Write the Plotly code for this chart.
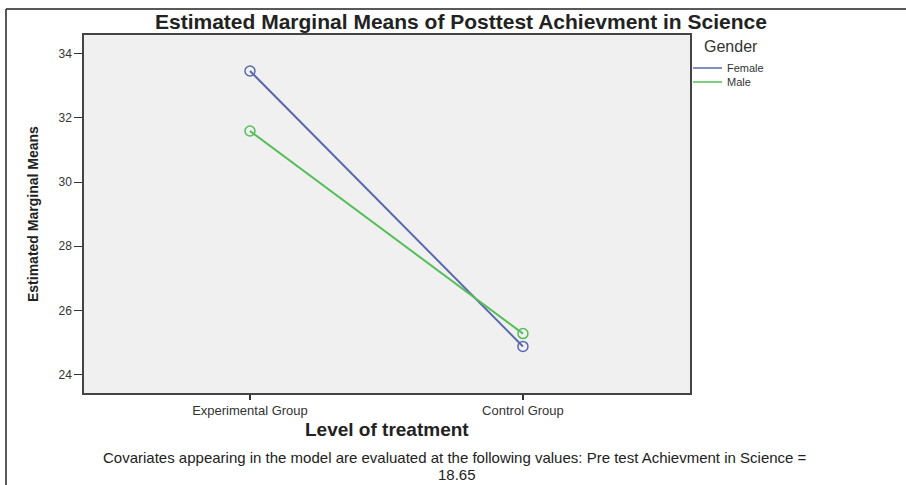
import plotly.graph_objects as go

# ---- data ----
groups = ["Experimental Group", "Control Group"]
series_names = ["Female", "Male"]
female_means = [33.46, 24.88]
male_means = [31.59, 25.28]
y_ticks = [24, 26, 28, 30, 32, 34]
note_line1 = ("Covariates appearing in the model are evaluated at the following values: "
              "Pre test Achievment in Science =")
note_line2 = "18.65"

W, H = 906, 485
L, R, T, B = 84, 690, 35, 393  # plot area in pixels

def px(x):
    return (x - L) / (R - L)

def py(y):
    return (B - y) / (B - T)

FEMALE = "#5a69ad"
MALE = "#55be58"
colors = [FEMALE, MALE]

fig = go.Figure()
for name, vals, col in zip(series_names, [female_means, male_means], colors):
    fig.add_trace(go.Scatter(
        x=[0, 1], y=vals, name=name, mode="lines+markers", showlegend=False,
        line=dict(color=col, width=2),
        marker=dict(symbol="circle-open", size=10, color=col, line=dict(width=1.5)),
    ))

fig.update_layout(
    width=W, height=H,
    margin=dict(l=L, r=W - R, t=T, b=H - B),
    paper_bgcolor="white",
    plot_bgcolor="#f0f0f0",
    font=dict(family="Liberation Sans, Arial, sans-serif", color="#333333"),
    showlegend=False,
)
fig.update_xaxes(
    range=[-0.608, 1.612], tickmode="array", tickvals=[0, 1], ticktext=groups,
    ticks="outside", ticklen=5, tickcolor="#333333", tickwidth=1.5,
    tickfont=dict(size=13, color="#333333"),
    showgrid=False, zeroline=False, showline=True, linecolor="#444444", linewidth=1.5,
    mirror=True,
)
fig.update_yaxes(
    range=[23.43, 34.58], tickmode="array", tickvals=y_ticks,
    ticks="outside", ticklen=8, tickcolor="#333333", tickwidth=1,
    tickfont=dict(size=12, color="#333333"),
    showgrid=False, zeroline=False, showline=True, linecolor="#444444", linewidth=1.5,
    mirror=True,
)

annotations = [
    dict(text="<b>Estimated Marginal Means of Posttest Achievment in Science</b>",
         x=px(461), y=py(21), xref="paper", yref="paper", showarrow=False,
         xanchor="center", yanchor="middle",
         font=dict(size=21, color="#222222")),
    dict(text="Gender", x=px(702), y=py(47), xref="paper", yref="paper",
         showarrow=False, xanchor="left", yanchor="middle",
         font=dict(size=16, color="#333333")),
    dict(text="<b>Estimated Marginal Means</b>", x=px(33), y=py(214),
         xref="paper", yref="paper", showarrow=False, textangle=-90,
         xanchor="center", yanchor="middle",
         font=dict(size=14, color="#222222")),
    dict(text="<b>Level of treatment</b>", x=px(387), y=py(429),
         xref="paper", yref="paper", showarrow=False,
         xanchor="center", yanchor="middle",
         font=dict(size=19, color="#222222")),
    dict(text=note_line1, x=px(455), y=py(457),
         xref="paper", yref="paper", showarrow=False,
         xanchor="center", yanchor="middle",
         font=dict(size=15, color="#222222")),
    dict(text=note_line2, x=px(457), y=py(474),
         xref="paper", yref="paper", showarrow=False,
         xanchor="center", yanchor="middle",
         font=dict(size=15, color="#222222")),
]

# manual legend (line samples, tightly spaced as in the reference)
legend_rows = [68, 82]
shapes = []
for col, yy in zip(colors, legend_rows):
    shapes.append(dict(type="line", xref="paper", yref="paper",
                       x0=px(693), x1=px(722), y0=py(yy), y1=py(yy),
                       line=dict(color=col, width=1.5)))
annotations.append(dict(text="<br>".join(series_names), x=px(725),
                        y=py(sum(legend_rows) / 2), xref="paper", yref="paper",
                        showarrow=False, xanchor="left", yanchor="middle", align="left",
                        font=dict(size=11, color="#333333")))

# outer frame (top and left edges)
shapes.append(dict(type="line", xref="paper", yref="paper",
                   x0=px(6), x1=px(906), y0=py(9), y1=py(9),
                   line=dict(color="#222222", width=1.5)))
shapes.append(dict(type="line", xref="paper", yref="paper",
                   x0=px(6), x1=px(6), y0=py(9), y1=py(485),
                   line=dict(color="#222222", width=1.5)))

fig.update_layout(annotations=annotations, shapes=shapes)

fig.write_html("out.html",
               config={"displayModeBar": False},
               post_script="document.body.style.margin='0';document.body.style.padding='0';")
